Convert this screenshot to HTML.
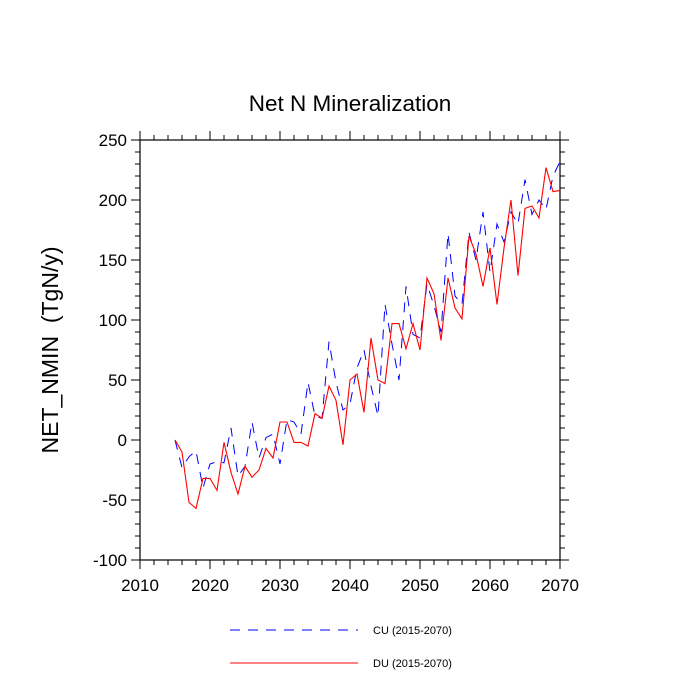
<!DOCTYPE html>
<html><head><meta charset="utf-8"><style>
body{margin:0;background:#fff}
svg{display:block;font-family:"Liberation Sans",Arial,sans-serif}
</style></head><body>
<svg id="chart" width="700" height="700">
<text x="350" y="111" font-size="22.5" text-anchor="middle">Net N Mineralization</text>
<text transform="translate(58,350) rotate(-90)" font-size="23" text-anchor="middle">NET_NMIN&#160;&#160;(TgN/y)</text>
<g id="axes"></g>
<g id="series"></g>
<g>
<line x1="230" y1="630" x2="358" y2="630" stroke="#0000ff" stroke-dasharray="10,8"/>
<text x="373" y="634" font-size="11">CU (2015-2070)</text>
<line x1="230" y1="663" x2="358" y2="663" stroke="#ff0000"/>
<text x="373" y="667" font-size="11">DU (2015-2070)</text>
</g>
</svg>
<script>
const years=[];for(let y=2015;y<=2070;y++)years.push(y);
const duValues=[0,-10,-52,-57,-32,-32,-42,-2,-27,-45,-22,-31,-25,-7,-15,15,15,-2,-2,-5,22,18,45,33,-4,50,55,23,85,50,47,97,97,76,97,75,135,122,83,135,110,101,170,155,128,160,113,160,200,137,193,195,185,227,207,208];
const cuValues=[0,-23,-14,-9,-40,-20,-18,-19,10,-30,-22,15,-15,2,5,-20,17,15,5,48,20,18,82,48,25,30,60,75,45,20,113,80,50,128,88,85,130,112,90,172,120,113,173,150,190,140,180,165,190,180,217,188,200,192,220,232];
const xTicks=[2010,2020,2030,2040,2050,2060,2070];
const yTicks=[-100,-50,0,50,100,150,200,250];
const L=140,R=560,T=140,B=560;
const sx=v=>L+(v-2010)*(R-L)/60;
const sy=v=>B-(v+100)*(B-T)/350;
const NS="http://www.w3.org/2000/svg";
const ax=document.getElementById('axes');
function mk(tag,attrs,parent){const e=document.createElementNS(NS,tag);for(const k in attrs)e.setAttribute(k,attrs[k]);parent.appendChild(e);return e;}
const frame=mk('rect',{x:L,y:T,width:R-L,height:B-T,fill:'none',stroke:'#000','stroke-width':1.2},ax);


for(let v=2010;v<=2070;v+=2){const maj=(v%10===0);const len=maj?9:5;const x=sx(v);
 mk('line',{x1:x,y1:B,x2:x,y2:B+len,stroke:'#000'},ax);
 mk('line',{x1:x,y1:T,x2:x,y2:T-len,stroke:'#000'},ax);}
for(let v=-100;v<=250;v+=10){const maj=(v%50===0);const len=maj?9:5;const y=sy(v);
 mk('line',{x1:L,y1:y,x2:L-len,y2:y,stroke:'#000'},ax);
 mk('line',{x1:R,y1:y,x2:R+len,y2:y,stroke:'#000'},ax);}
xTicks.forEach(v=>{const t=mk('text',{x:sx(v),y:B+31,'font-size':17,'text-anchor':'middle'},ax);t.textContent=v;
 
 });
yTicks.forEach(v=>{const t=mk('text',{x:L-13,y:sy(v)+6,'font-size':17,'text-anchor':'end'},ax);t.textContent=v;
 
 });
const sg=document.getElementById('series');
function pts(vals){return vals.map((v,i)=>sx(years[i])+','+sy(v)).join(' ');}
const cu=mk('polyline',{points:pts(cuValues),fill:'none',stroke:'#0000ff','stroke-dasharray':'10,8','stroke-width':1},sg);


const du=mk('polyline',{points:pts(duValues),fill:'none',stroke:'#ff0000','stroke-width':1.1},sg);


</script>
</body></html>
